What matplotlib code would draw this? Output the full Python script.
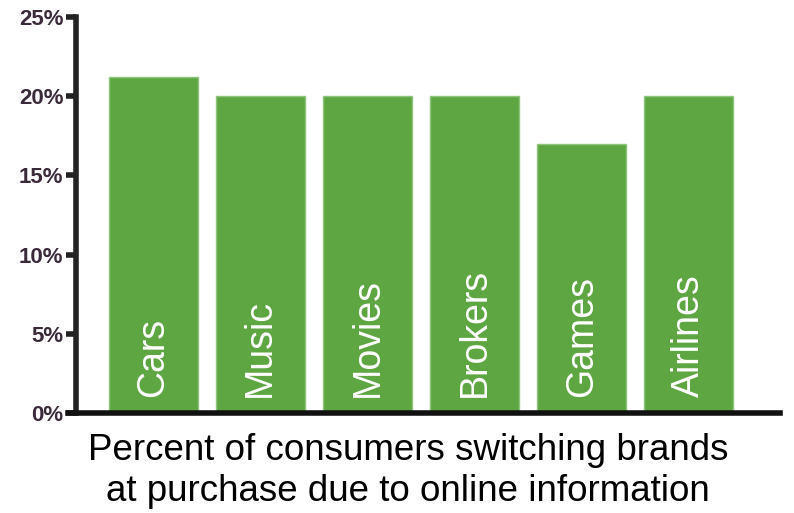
import matplotlib.pyplot as plt
import numpy as np

plt.rcParams['font.family'] = ['Liberation Sans', 'DejaVu Sans']

categories = ['Cars', 'Music', 'Movies', 'Brokers', 'Games', 'Airlines']
switching_pct = [21.2, 20.0, 20.0, 20.0, 17.0, 20.0]
y_ticks = [0, 5, 10, 15, 20, 25]
y_tick_labels = ['0%', '5%', '10%', '15%', '20%', '25%']

fig = plt.figure(figsize=(7.94, 5.13), dpi=100)
ax = fig.add_axes([76 / 794, 1 - 413 / 513, (780 - 76) / 794, (413 - 17) / 513])

x = np.arange(len(categories))
bars = ax.bar(x, switching_pct, width=0.83, color='#5ea642',
              edgecolor='#8ec57c', linewidth=1.0, zorder=2)

# category names written up the inside of each bar
for xi, name in zip(x, categories):
    ax.text(xi, 1.0, name, rotation=90, ha='center', va='bottom',
            color='white', fontsize=27, zorder=3)

ax.set_xlim(-0.72, 5.85)
ax.set_ylim(0, 25)
ax.set_xticks([])
ax.set_yticks(y_ticks)
ax.set_yticklabels(y_tick_labels, fontsize=16, fontweight='bold', color='#3a2a3a')
ax.tick_params(axis='y', length=7, width=4, color='#222222', pad=2)

for side in ['top', 'right']:
    ax.spines[side].set_visible(False)
ax.spines['left'].set_linewidth(4)
ax.spines['left'].set_color('#222222')
ax.spines['bottom'].set_linewidth(4)
ax.spines['bottom'].set_color('#111111')
ax.spines['bottom'].set_bounds(-0.72 - 8 / 107, 5.85)
ax.spines['bottom'].set_clip_on(False)

fig.text(408 / 794, 1 - 471 / 513,
         'Percent of consumers switching brands\nat purchase due to online information',
         ha='center', va='center', fontsize=26.5, linespacing=1.25, color='black')

fig.savefig('out.png', dpi=100)
